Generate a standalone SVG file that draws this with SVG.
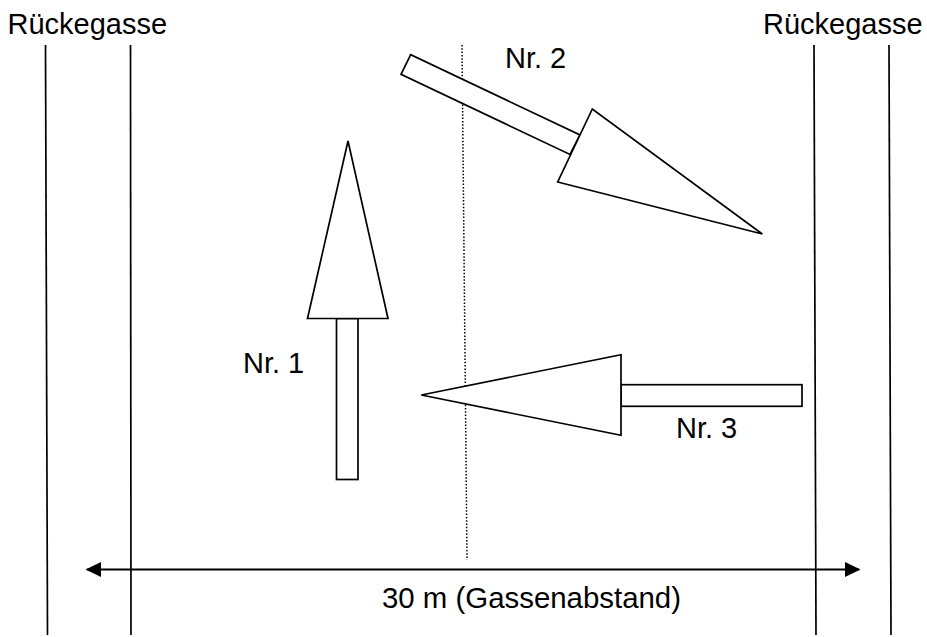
<svg xmlns="http://www.w3.org/2000/svg" width="927" height="637" viewBox="0 0 927 637">
  <style>
    text { font-family: "Liberation Sans", Arial, sans-serif; font-size: 29px; fill: #000; }
    .line { fill: none; stroke: #000; stroke-width: 1.7; }
    .arrow { fill: none; stroke: #000; stroke-width: 2.2; }
    .shape { fill: #fff; stroke: #000; stroke-width: 1.7; stroke-linejoin: miter; }
    .dot { fill: none; stroke: #000; stroke-width: 1.5; stroke-dasharray: 1.5 1.8; }
  </style>
  <defs>
    <marker id="head" markerUnits="userSpaceOnUse" markerWidth="16" markerHeight="16" refX="14" refY="8" orient="auto-start-reverse" viewBox="0 0 16 16">
      <path d="M0,0.5 L15.5,8 L0,15.5 Z" fill="#000"/>
    </marker>
  </defs>
  <rect width="927" height="637" fill="#fff"/>
  <g id="connectors">
    <path class="line" d="M45.5,45 L47.5,635"/>
    <path class="line" d="M130.5,45 L131,635"/>
    <path class="line" d="M814,45 L816,635"/>
    <path class="line" d="M889,45 L891,635"/>
    <path class="dot" d="M462,45 L467,560"/>
    <path class="arrow" d="M87,569.5 L859,569.5" marker-start="url(#head)" marker-end="url(#head)"/>
  </g>
  <g id="gasse-left"><text x="7.5" y="33.5">Rückegasse</text></g>
  <g id="gasse-right"><text x="763" y="33.5">Rückegasse</text></g>
  <g id="tree-1">
    <rect class="shape" x="336.5" y="318.5" width="21.5" height="161"/>
    <polygon class="shape" points="348,141 388,318.5 307.5,318.5"/>
    <text x="243" y="372.5">Nr. 1</text>
  </g>
  <g id="tree-2">
    <polygon class="shape" points="410.7,54.7 401,74.3 570,154.5 580,135"/>
    <polygon class="shape" points="592.3,109 557.7,182 762.3,234"/>
    <text x="505" y="68">Nr. 2</text>
  </g>
  <g id="tree-3">
    <rect class="shape" x="621" y="384.7" width="181" height="21.6"/>
    <polygon class="shape" points="421.3,395 621,354.7 621,435.3"/>
    <text x="676" y="438">Nr. 3</text>
  </g>
  <g id="distance-label"><text x="382" y="607.5" style="font-size:29.4px">30 m (Gassenabstand)</text></g>
</svg>
